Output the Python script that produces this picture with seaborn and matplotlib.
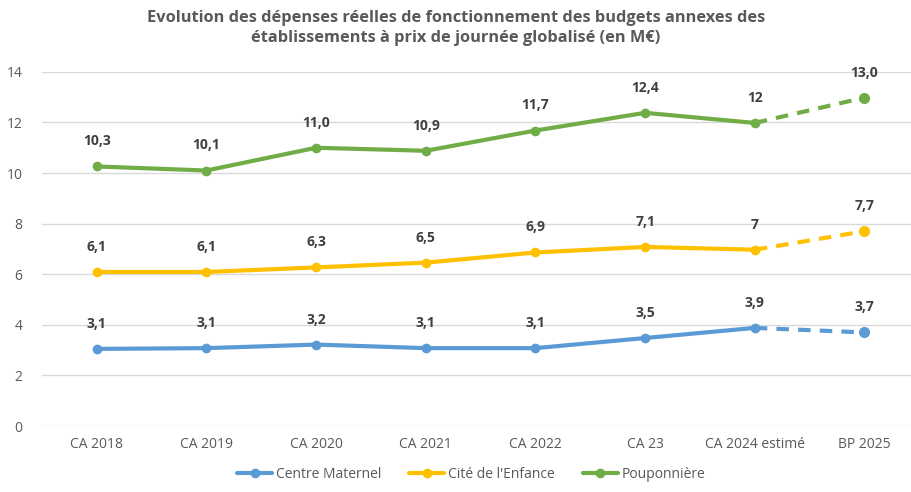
import matplotlib
matplotlib.use("Agg")
import matplotlib.pyplot as plt
import seaborn as sns
import pandas as pd
from matplotlib.lines import Line2D

categories = ["CA 2018", "CA 2019", "CA 2020", "CA 2021", "CA 2022", "CA 23", "CA 2024 estimé", "BP 2025"]
centre_maternel = [3.05, 3.08, 3.22, 3.08, 3.08, 3.48, 3.88, 3.7]
cite_enfance = [6.09, 6.09, 6.27, 6.46, 6.86, 7.08, 6.97, 7.7]
pouponniere = [10.26, 10.1, 11.0, 10.88, 11.68, 12.38, 11.98, 12.98]
labels_cm = ["3,1", "3,1", "3,2", "3,1", "3,1", "3,5", "3,9", "3,7"]
labels_ce = ["6,1", "6,1", "6,3", "6,5", "6,9", "7,1", "7", "7,7"]
labels_pp = ["10,3", "10,1", "11,0", "10,9", "11,7", "12,4", "12", "13,0"]
series_names = ["Centre Maternel", "Cité de l'Enfance", "Pouponnière"]
colors = ["#5B9BD5", "#FFC000", "#70AD47"]
yticks = [0, 2, 4, 6, 8, 10, 12, 14]

sns.set_theme(style="white")
plt.rcParams['font.family'] = ['Open Sans', 'DejaVu Sans']

fig = plt.figure(figsize=(9.12, 4.92), dpi=100)
ax = fig.add_axes([0.046, 0.134, 0.962, 0.72])

series = [centre_maternel, cite_enfance, pouponniere]
labels = [labels_cm, labels_ce, labels_pp]
x = list(range(len(categories)))

for name, vals, col, labs in zip(series_names, series, colors, labels):
    df_solid = pd.DataFrame({"x": x[:7], "y": vals[:7]})
    sns.lineplot(data=df_solid, x="x", y="y", ax=ax, color=col, linewidth=3,
                 marker="o", markersize=7, markeredgewidth=0, legend=False)
    df_dash = pd.DataFrame({"x": x[6:], "y": vals[6:]})
    sns.lineplot(data=df_dash, x="x", y="y", ax=ax, color=col, linewidth=3,
                 linestyle=(0, (3, 2.2)), legend=False)
    ax.plot([x[7]], [vals[7]], "o", color=col, markersize=8, markeredgewidth=0)
    for xi, v, t in zip(x, vals, labs):
        ax.annotate(t, (xi, v), xytext=(0, 13), textcoords="offset points",
                    ha="center", va="bottom", fontsize=10, fontweight="bold",
                    color="#404040")

ax.set_xlim(-0.5, 7.5)
ax.set_ylim(0, 14)
ax.set_yticks(yticks)
ax.set_yticklabels([str(t) for t in yticks], fontsize=10, color="#595959")
ax.set_xticks(x)
ax.set_xticklabels(categories, fontsize=10, color="#595959")
ax.tick_params(axis="both", length=0, pad=8)
ax.tick_params(axis="y", pad=14)
ax.grid(axis="y", color="#D9D9D9", linewidth=1)
ax.set_axisbelow(True)
for s in ax.spines.values():
    s.set_visible(False)
ax.set_xlabel("")
ax.set_ylabel("")

fig.suptitle("Evolution des dépenses réelles de fonctionnement des budgets annexes des\n"
             "établissements à prix de journée globalisé (en M€)",
             x=0.5, y=0.98, fontsize=11.8, fontweight="bold", color="#595959",
             linespacing=1.35)

handles = [Line2D([0], [0], color=c, linewidth=3, marker="o", markersize=7,
                  markeredgewidth=0) for c in colors]
fig.legend(handles, series_names, loc="lower center", bbox_to_anchor=(0.517, -0.005),
           ncol=3, frameon=False, fontsize=10, handlelength=2.5,
           columnspacing=2.0, labelcolor="#595959", handletextpad=0.3)

fig.savefig("out.png", dpi=100)
